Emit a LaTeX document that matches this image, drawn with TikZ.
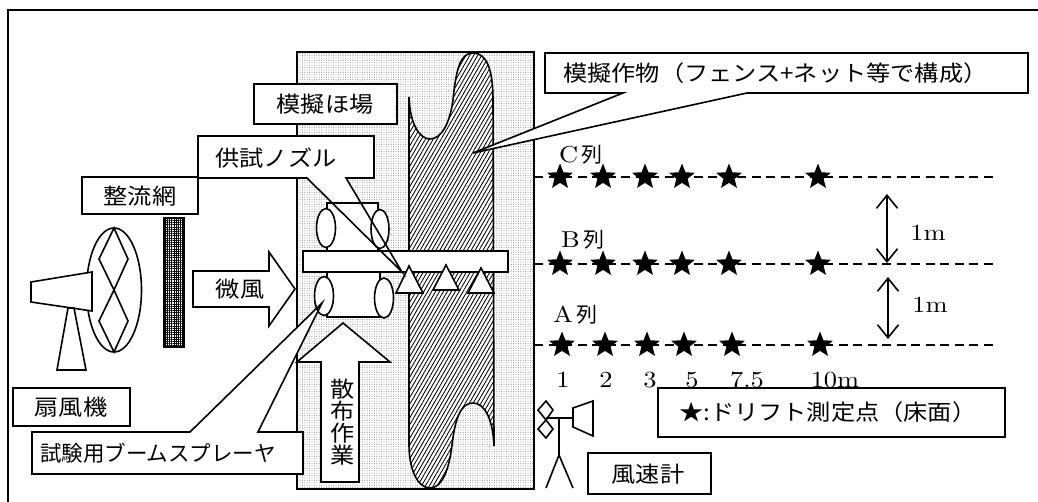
\documentclass[tikz,border=0pt]{standalone}
\usepackage{fontspec}
\usetikzlibrary{patterns.meta,arrows.meta,shapes.geometric}
\newfontfamily\jp{Noto Sans CJK JP}[FakeStretch=1.1]
\newfontfamily\jpn{Noto Sans CJK JP}
\newfontfamily\numf{lmroman10-regular}[Extension=.otf,FakeStretch=1.15]

\tikzset{
  outline/.style={line width=1.6pt, line join=miter},
  whiteshape/.style={outline, draw=black, fill=white},
  jptext/.style={font={\jp\fontsize{22}{26}\selectfont}, inner sep=0pt},
  numtext/.style={font={\numf\fontsize{23}{26}\selectfont}, inner sep=0pt},
  starmark/.style={star, star points=5, star point ratio=2.3, fill=black,
    draw=none, minimum size=27pt, inner sep=0pt},
  rowline/.style={line width=1.4pt, dash pattern=on 9pt off 5.5pt},
  gapmark/.style={line width=1.6pt,
    {Straight Barb[length=13pt,width=21pt]}-{Straight Barb[length=13pt,width=21pt]}},
  fieldfill/.style={pattern={Dots[distance=2.4pt,radius=0.45pt]}, pattern color=black!55},
  cropfill/.style={pattern={Lines[angle=60,distance=3.4pt,line width=0.85pt]}},
}
\newcommand{\retsu}{{\jpn\fontsize{21}{24}\selectfont\,列}}
\newcommand{\cropoutline}{(409,97) .. controls (410,125) and (420,139) .. (430,139)
  .. controls (442,139) and (450,122) .. (453,100)
  .. controls (456,70) and (460,53) .. (473,53)
  .. controls (487,53) and (493,70) .. (493,100)
  -- (494,446)
  .. controls (493,420) and (485,403) .. (473,403)
  .. controls (460,403) and (455,420) .. (452,445)
  .. controls (449,470) and (442,488) .. (430,488)
  .. controls (418,488) and (409,470) .. (409,445) -- cycle}

\begin{document}
\begin{tikzpicture}[x=1pt,y=-1pt]
\useasboundingbox (0,0) rectangle (1038,502);

% outer frame
\draw[line width=1.8pt] (8,502) -- (8,10) -- (1038,10);

% test field
\path[fill=white] (297,52) rectangle (534,489);
\path[fieldfill] (297,52) rectangle (534,489);
\draw[outline] (297,52) rectangle (534,489);

% crop (fence and net)
\path[fill=white] \cropoutline;
\path[cropfill] \cropoutline;
\draw[outline] \cropoutline;

% flow straightening net
\path[fill=white] (164,218) rectangle (184,347);
\path[pattern={Hatch[angle=0,distance=2.2pt,line width=0.6pt]}]
  (164,218) rectangle (184,347);
\draw[outline] (164,218) rectangle (184,347);

% fan
\draw[outline, fill=white] (114,290) ellipse [x radius=27.5, y radius=62];
\draw[outline] (114,228) -- (128,259) -- (114,290) -- (99,259) -- cycle;
\draw[outline] (114,290) -- (128,321) -- (114,352) -- (99,321) -- cycle;
\draw[whiteshape] (31,282) -- (92,272) -- (92,311) -- (31,302) -- cycle;
\draw[whiteshape] (68,308) -- (74,308) -- (86,370) -- (57,370) -- cycle;

% breeze arrow
\draw[whiteshape] (193,271) -- (269,271) -- (269,252) -- (295,289)
  -- (269,326) -- (269,307) -- (193,307) -- cycle;
\node[jptext] (breeze) at (240,289) {微風};

% spraying direction arrow
\draw[whiteshape] (321,482) -- (321,362) -- (297,362) -- (343,323)
  -- (390,362) -- (359,362) -- (359,482) -- cycle;
\node[jptext, align=center, font={\jp\fontsize{22}{22}\selectfont}]
  (work) at (343,422) {散\\布\\作\\業};

% callout backgrounds
\path[fill=white] (198,136) -- (374,136) -- (374,178) -- (346,178)
  -- (402,272) -- (307,178) -- (198,178) -- cycle;
\path[fill=white] (32,432) -- (190,432) -- (322,303) -- (258,432)
  -- (303,432) -- (303,474) -- (32,474) -- cycle;
\path[fill=white] (545,53) -- (1028,53) -- (1028,93) -- (747,93)
  -- (473,153) -- (623,93) -- (545,93) -- cycle;

% boom sprayer
\draw[whiteshape] (327,203) rectangle (378,251);
\draw[whiteshape] (327,272) rectangle (380,317);
\draw[whiteshape] (326,228) ellipse [x radius=9.5, y radius=19.5];
\draw[whiteshape] (380,229) ellipse [x radius=9, y radius=19.5];
\draw[whiteshape] (324,296) ellipse [x radius=9.5, y radius=19.5];
\draw[whiteshape] (384,298) ellipse [x radius=9.5, y radius=20];
\draw[whiteshape] (303,251) rectangle (508,272);
\draw[whiteshape] (409,266) -- (423,293) -- (396,293) -- cycle;
\draw[whiteshape] (446,265) -- (459,290) -- (433,290) -- cycle;
\draw[whiteshape] (481,268) -- (494,293) -- (468,293) -- cycle;

% callout outlines
\draw[outline] (198,136) -- (374,136) -- (374,178) -- (346,178)
  -- (402,272) -- (307,178) -- (198,178) -- cycle;
\draw[outline] (32,432) -- (190,432) -- (322,303) -- (258,432)
  -- (303,432) -- (303,474) -- (32,474) -- cycle;
\draw[outline] (545,53) -- (1028,53) -- (1028,93) -- (747,93)
  -- (473,153) -- (623,93) -- (545,93) -- cycle;
\node[jptext] (nozzle) at (276,158) {供試ノズル};
\node[jptext, font={\jpn\fontsize{21.5}{26}\selectfont}] (sprayer) at (158,453)
  {試験用ブームスプレーヤ};
\node[jptext, anchor=west] (crop) at (563,73) {模擬作物（フェンス+ネット等で構成）};

% plain label boxes
\draw[whiteshape] (82,177) rectangle (198,214);
\node[jptext] (net) at (140,196) {整流網};
\draw[whiteshape] (254,84) rectangle (397,124);
\node[jptext] (field) at (325,104) {模擬ほ場};
\draw[whiteshape] (13,388) rectangle (130,426);
\node[jptext] (fan) at (71,407) {扇風機};
\draw[whiteshape] (658,388) rectangle (1005,437);
\node[jptext, anchor=west] (legend) at (679,412) {★:ドリフト測定点（床面）};
\draw[whiteshape] (588,453) rectangle (711,494);
\node[jptext] (anemo) at (648,474) {風速計};

% anemometer
\draw[outline] (546,401) -- (553,410) -- (546,420) -- (538,410) -- cycle;
\draw[outline] (546,420) -- (553,429) -- (546,438) -- (538,429) -- cycle;
\draw[outline] (546,418) -- (573,418);
\draw[outline] (559,418) -- (559,455);
\draw[outline] (546,488) -- (559,455) -- (573,488);
\draw[outline] (573,408) -- (593,401) -- (593,436) -- (573,427) -- cycle;

% sampling rows
\draw[rowline] (534,177) -- (997,177);
\draw[rowline] (534,264) -- (997,264);
\draw[rowline] (534,345) -- (997,345);
\foreach \x [count=\i] in {560,603,645,682,729,818}
  \node[starmark] (c\i) at (\x,177) {};
\foreach \x [count=\i] in {560,603,645,682,729,818}
  \node[starmark] (b\i) at (\x,264) {};
\foreach \x [count=\i] in {562,605,647,684,732,820}
  \node[starmark] (a\i) at (\x,345) {};

\node[numtext, anchor=base west] (rowc) at (559,163) {C\retsu};
\node[numtext, anchor=base west] (rowb) at (561,248) {B\retsu};
\node[numtext, anchor=base west] (rowa) at (553,323) {A\retsu};

% distances
\foreach \x/\t [count=\i] in {563/1,606/2,650/3,692/5,747/7.5,835/10m}
  \node[numtext, anchor=base] (d\i) at (\x,387) {\t};

% row spacing
\coordinate (g1) at (887,194);
\coordinate (g2) at (887,263);
\coordinate (g3) at (888,277);
\coordinate (g4) at (888,339);
\draw[gapmark] (g1) -- (g2);
\draw[gapmark] (g3) -- (g4);
\node[numtext, anchor=base] (m1) at (928,241) {1m};
\node[numtext, anchor=base] (m2) at (930,313) {1m};
\end{tikzpicture}
\end{document}
